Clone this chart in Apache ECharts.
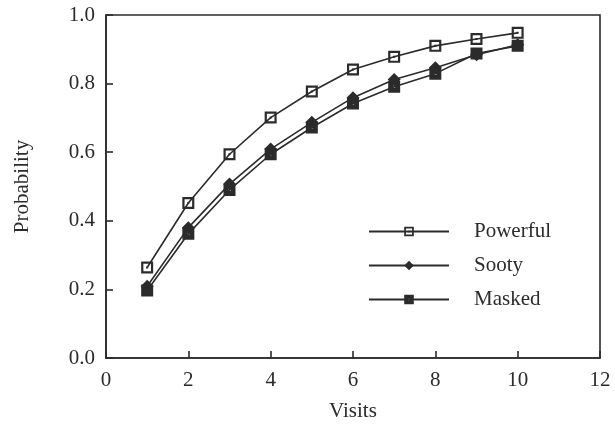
<!DOCTYPE html>
<html>
<head>
<meta charset="utf-8">
<script src="https://cdn.jsdelivr.net/npm/echarts@6/dist/echarts.min.js"></script>
<style>
  html, body { margin: 0; padding: 0; background: #fff; }
  #chart { width: 615px; height: 427px; }
</style>
</head>
<body>
<div id="chart"></div>
<script>
// values
var visits = [1, 2, 3, 4, 5, 6, 7, 8, 9, 10];
var powerful = [0.264, 0.452, 0.594, 0.701, 0.777, 0.841, 0.878, 0.910, 0.930, 0.948];
var sooty = [0.209, 0.380, 0.507, 0.609, 0.687, 0.759, 0.812, 0.846, 0.884, 0.913];
var masked = [0.197, 0.362, 0.490, 0.594, 0.672, 0.742, 0.791, 0.829, 0.888, 0.910];
var seriesNames = ['Powerful', 'Sooty', 'Masked'];

// hollow square with a dot, filled square with a hole
var hollowSq = 'path://M0,0 L12,0 L12,12 L0,12 Z M2.2,2.2 L2.2,9.8 L9.8,9.8 L9.8,2.2 Z M5,5 L7,5 L7,7 L5,7 Z';
var filledSq = 'path://M0,0 L12,0 L12,12 L0,12 Z M5,5 L5,7 L7,7 L7,5 Z';

var ink = '#2b2b2b';
var font = 'Liberation Serif';

function pairs(ys) {
  var out = [];
  for (var i = 0; i < visits.length; i++) out.push([visits[i], ys[i]]);
  return out;
}

function makeSeries(name, ys, symbol, size) {
  return {
    name: name,
    type: 'line',
    data: pairs(ys),
    symbol: symbol,
    symbolSize: size,
    showAllSymbol: true,
    lineStyle: { color: ink, width: 1.6 },
    itemStyle: { color: ink, borderWidth: 0 },
    emphasis: { disabled: true },
    animation: false
  };
}

var chart = echarts.init(document.getElementById('chart'));
chart.setOption({
  backgroundColor: '#fff',
  grid: {
    left: 106, right: 15, top: 15, bottom: 67,
    show: true, borderColor: ink, borderWidth: 1.6, backgroundColor: 'transparent'
  },
  legend: {
    orient: 'vertical',
    left: 363,
    top: 216,
    itemWidth: 80,
    itemHeight: 12,
    itemGap: 13,
    data: seriesNames,
    textStyle: { fontFamily: font, fontSize: 21, color: ink, padding: [0, 0, 0, 20] }
  },
  xAxis: {
    type: 'value',
    min: 0, max: 12, interval: 2,
    name: 'Visits',
    nameLocation: 'middle',
    nameGap: 43,
    nameTextStyle: { fontFamily: font, fontSize: 21, color: ink },
    axisLine: { lineStyle: { color: ink, width: 1.6 } },
    axisTick: { inside: true, length: 7, lineStyle: { color: ink, width: 1.6 } },
    axisLabel: { fontFamily: font, fontSize: 21, color: ink, margin: 12 },
    splitLine: { show: false }
  },
  yAxis: {
    type: 'value',
    min: 0, max: 1, interval: 0.2,
    name: 'Probability',
    nameLocation: 'middle',
    nameGap: 73,
    nameTextStyle: { fontFamily: font, fontSize: 21, color: ink },
    axisLine: { show: true, lineStyle: { color: ink, width: 1.6 } },
    axisTick: { show: true, inside: true, length: 7, lineStyle: { color: ink, width: 1.6 } },
    axisLabel: {
      fontFamily: font, fontSize: 21, color: ink, margin: 11,
      formatter: function (v) { return v.toFixed(1); }
    },
    splitLine: { show: false }
  },
  series: [
    makeSeries('Powerful', powerful, hollowSq, 12),
    makeSeries('Sooty', sooty, 'diamond', 13),
    makeSeries('Masked', masked, filledSq, 12)
  ]
});
</script>
</body>
</html>
